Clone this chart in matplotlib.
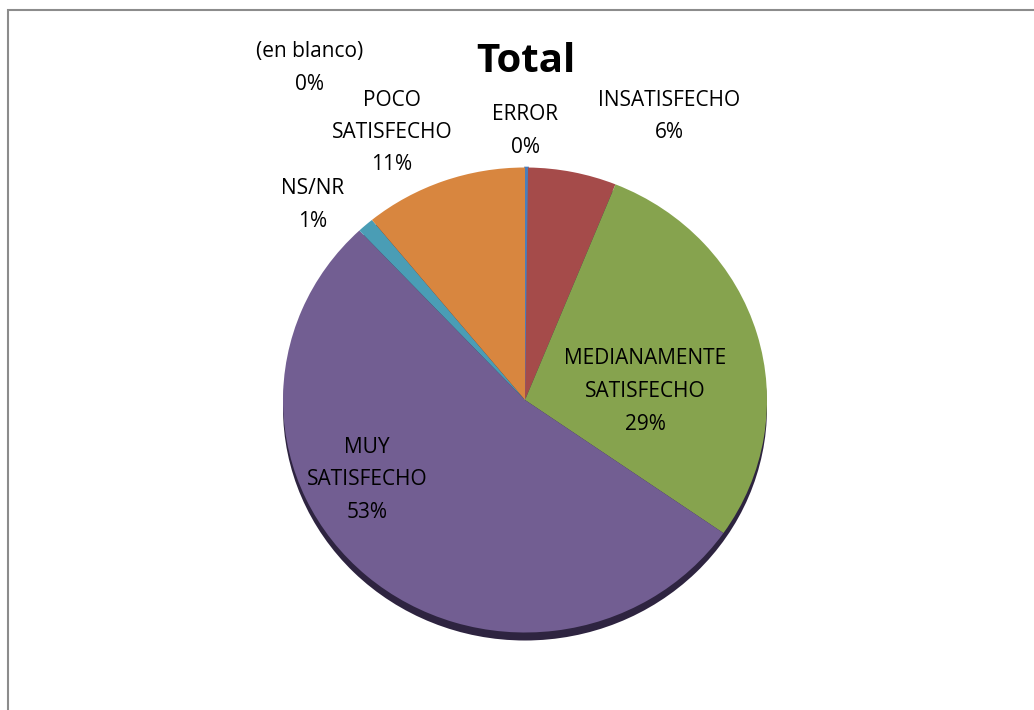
import matplotlib.pyplot as plt
from matplotlib.patches import Ellipse, Rectangle

# data (percent of total)
categories = ['ERROR', 'INSATISFECHO', 'MEDIANAMENTE\nSATISFECHO', 'MUY\nSATISFECHO',
              'NS/NR', 'POCO\nSATISFECHO', '(en blanco)']
values = [0.2, 5.9, 28.6, 53.3, 1.1, 10.9, 0.0]
shown_pct = ['0%', '6%', '29%', '53%', '1%', '11%', '0%']

colors = ['#4A7EBB', '#A54B4A', '#86A34E', '#725E92', '#4A9DB5', '#D8863F', '#ffffff']

# label anchor points in pixels (x, y of first line), as placed in the original
label_pos = [(525, 115), (669, 100), (645, 359), (367, 447), (313, 189), (392, 100), (310, 52)]

W, H = 1034, 710
plt.rcParams['font.family'] = ['Open Sans', 'DejaVu Sans']
fig = plt.figure(figsize=(W / 100, H / 100), dpi=100)

# outer chart border
fig.patches.append(Rectangle((8 / W, -0.1), 1.2, 1 - 10 / H + 0.1, transform=fig.transFigure,
                             fill=False, edgecolor='#8c8c8c', linewidth=1.5))

# pie drawn into an axes with a non-square box -> slightly flattened ellipse
cx, cy, rx, ry = 525, 400, 242, 232.5
ax = fig.add_axes([(cx - rx) / W, 1 - (cy + ry) / H, 2 * rx / W, 2 * ry / H])
ax.axis('off')

# dark rim under the pie
shadow = Ellipse((0, -8 / ry), 2, 2, facecolor='#2E2440', edgecolor='none', zorder=0, clip_on=False)
ax.add_patch(shadow)

wedges, _ = ax.pie(values, colors=colors, startangle=90, counterclock=False, radius=1,
                   wedgeprops=dict(linewidth=0))
for w in wedges:
    w.set_zorder(2)
    w.set_clip_on(False)
# the ~0% ERROR slice shows as a thin line
wedges[0].set_edgecolor(colors[0])
wedges[0].set_linewidth(1.2)
ax.set_aspect('auto')
ax.set_xlim(-1, 1)
ax.set_ylim(-1, 1)

line_h = 32.5
for cat, pct, (px, py) in zip(categories, shown_pct, label_pos):
    lines = cat.split('\n') + [pct]
    for i, t in enumerate(lines):
        fig.text(px / W, 1 - (py + i * line_h) / H, t, ha='center', va='center',
                 fontsize=15, color='black')

fig.text(526 / W, 1 - 62 / H, 'Total', ha='center', va='center', fontsize=29,
         fontweight='bold', color='black')

fig.savefig('out.png', dpi=100)
